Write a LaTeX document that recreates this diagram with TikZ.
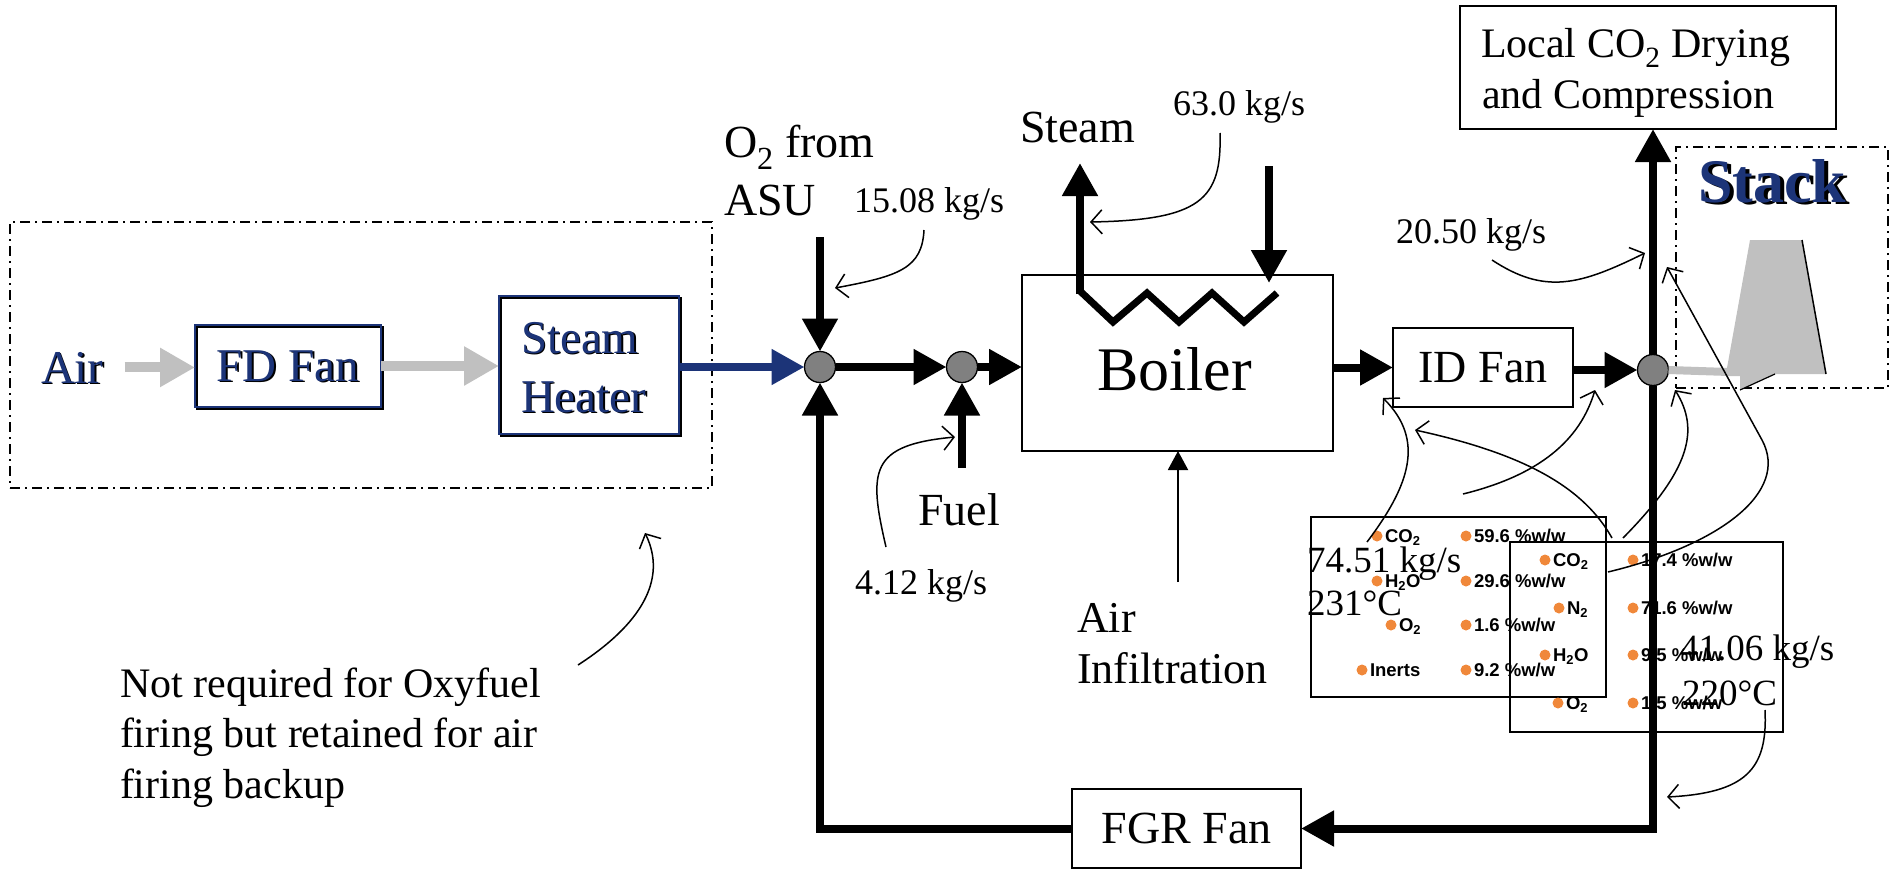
\documentclass[tikz,border=0pt]{standalone}
\usepackage{fontspec}
\setmainfont{Liberation Serif}
\newfontfamily\sansbf{Liberation Sans}
\usetikzlibrary{arrows.meta}
\definecolor{navy}{RGB}{28,52,120}
\definecolor{dotorange}{RGB}{240,136,58}
\definecolor{mixgray}{RGB}{128,128,128}
\definecolor{lgray}{RGB}{192,192,192}
\newcommand\fsz[2]{\fontsize{#1}{#2}\selectfont}
\newcommand\bul[4]{\fill[dotorange] (#2,#3) circle[radius=5.5pt];
  \node[anchor=base west, font=\sansbf\bfseries\fsz{18.5}{22}] (#1) at (#2+8,#3+6.5) {#4};}
\begin{document}
\begin{tikzpicture}[x=1pt,y=-1pt,
  every node/.style={inner sep=0pt, outer sep=0pt},
  box/.style={draw, line width=1.8pt},
  nbox/.style={draw=navy, line width=2.2pt},
  shbox/.style={draw=black, line width=2pt},
  ddbox/.style={draw, line width=1.6pt, dash pattern=on 10pt off 5pt on 2pt off 5pt},
  mixer/.style={circle, draw, fill=mixgray, minimum size=31pt, line width=1.3pt},
  fatarrow/.style={line width=8pt, line join=miter, -{Triangle[length=33pt,width=34pt]}},
  grayarrow/.style={lgray, line width=10pt, -{Triangle[length=35pt,width=37pt]}},
  leader/.style={line width=1.5pt, -{Straight Barb[length=11pt,width=24pt]}},
  lab/.style={anchor=base west},
  big/.style={font=\fsz{46}{52}},
  mid/.style={font=\fsz{36}{43}},
  bigv/.style={font=\fsz{37}{44}},
]
\useasboundingbox (0,0) rectangle (1891,871);

% dash-dot groups
\node[ddbox, minimum width=702pt, minimum height=266pt] (airgroup) at (361,355) {};
\node[ddbox, minimum width=212pt, minimum height=241pt] (stackgroup) at (1782,267.5) {};

% air side (blue, shadowed)
\node[lab, font=\fsz{47}{52}] (airsh) at (42.5,384.5) {Air};
\node[lab, font=\fsz{47}{52}, text=navy] (air) at (41,383) {Air};
\node[shbox, minimum width=186pt, minimum height=82pt] (fdsh) at (290,368) {};
\node[nbox, minimum width=186pt, minimum height=82pt] (fd) at (288,366) {};
\node[font=\fsz{47}{52}] (fdtsh) at (289.5,367.5) {FD Fan};
\node[font=\fsz{47}{52}, text=navy] (fdt) at (288,366) {FD Fan};
\node[shbox, minimum width=180pt, minimum height=138pt] (shsh) at (591,367) {};
\node[nbox, minimum width=180pt, minimum height=138pt] (sh) at (589,365) {};
\node[lab, font=\fsz{47}{52}] (sh1s) at (522.5,354.5) {Steam};
\node[lab, font=\fsz{47}{52}, text=navy] (sh1) at (521,353) {Steam};
\node[lab, font=\fsz{47}{52}] (sh2s) at (522.5,413.5) {Heater};
\node[lab, font=\fsz{47}{52}, text=navy] (sh2) at (521,412) {Heater};

\draw[grayarrow] ([xshift=21pt]air.east) -- (air.east -| fd.west);
\draw[grayarrow] (fd.east) -- (fd.east -| sh.west);

% mixers
\node[mixer] (m1) at (820,367) {};
\node[mixer] (m2) at (962,367) {};
\node[mixer] (m3) at (1653,370) {};

\draw[fatarrow, navy] (sh.east |- m1.west) -- (m1.west);

% main units
\node[box, minimum width=311pt, minimum height=176pt] (boiler) at (1177.5,363) {};
\node[lab, font=\fsz{62}{70}] (boilert) at (1097,390) {Boiler};
\node[box, minimum width=180pt, minimum height=79pt, font=\fsz{46}{52}] (idfan) at (1483,367.5) {ID Fan};
\node[box, minimum width=229pt, minimum height=79pt, font=\fsz{46}{52}] (fgr) at (1186.5,828.5) {FGR Fan};
\node[box, minimum width=376pt, minimum height=123pt] (co2) at (1648,67.5) {};
\node[lab, font=\fsz{42}{51}] (co2a) at (1481,57) {Local CO\textsubscript{2} Drying};
\node[lab, font=\fsz{42}{51}] (co2b) at (1482,108) {and Compression};

% composition boxes
\node[draw, line width=2pt, minimum width=295pt, minimum height=180pt] (b1) at (1458.5,607) {};
\node[draw, line width=2pt, minimum width=273pt, minimum height=190pt] (b2) at (1646.5,637) {};
\bul{b1a}{1377}{536}{CO\textsubscript{2}}
\bul{b1b}{1466}{536}{59.6 \%w/w}
\bul{b1c}{1377}{581}{H\textsubscript{2}O}
\bul{b1d}{1466}{581}{29.6 \%w/w}
\bul{b1e}{1391}{625}{O\textsubscript{2}}
\bul{b1f}{1466}{625}{1.6 \%w/w}
\bul{b1g}{1362}{670}{Inerts}
\bul{b1h}{1466}{670}{9.2 \%w/w}
\bul{b2a}{1545}{560}{CO\textsubscript{2}}
\bul{b2b}{1633}{560}{17.4 \%w/w}
\bul{b2c}{1559}{608}{N\textsubscript{2}}
\bul{b2d}{1633}{608}{71.6 \%w/w}
\bul{b2e}{1545}{655}{H\textsubscript{2}O}
\bul{b2f}{1633}{655}{9.5 \%w/w}
\bul{b2g}{1558}{703}{O\textsubscript{2}}
\bul{b2h}{1633}{703}{1.5 \%w/w}
\node[lab, bigv] (q7451) at (1307,572) {74.51 kg/s};
\node[lab, bigv] (t231) at (1307,615) {231°C};
\node[lab, bigv] (q4106) at (1680,660) {41.06 kg/s};
\node[lab, bigv] (t220) at (1682,705) {220°C};

% stack
\draw[lgray, line width=8pt] (m3.east) -- (1729,372);
\fill[lgray] (1750,240) -- (1802,240) -- (1826,374) -- (1775,374) -- (1740,390) -- (1740,376) -- (1727,376) -- (1727,368) -- cycle;
\draw[line width=1.5pt] (1802,240) -- (1826,374);
\draw[line width=1.2pt] (1740,390) -- (1775,374);
\node[lab, font=\fsz{62}{70}\bfseries] (stacksh) at (1702,204) {Stack};
\node[lab, font=\fsz{62}{70}\bfseries, text=navy] (stack) at (1698,202) {Stack};

% thick flow connectors
\coordinate (o2top) at (820,237);
\draw[fatarrow] (o2top) -- (m1.north);
\draw[fatarrow] (m1.east) -- (m2.west);
\draw[fatarrow] (m2.east) -- (m2.east -| boiler.west);
\coordinate (fuelbot) at (962,468);
\draw[fatarrow] (fuelbot) -- (m2.south);
\draw[fatarrow] (fgr.west) -- (fgr.west -| m1.south) -- (m1.south);
\draw[fatarrow] (boiler.east |- idfan.west) -- (idfan.west);
\draw[fatarrow] (idfan.east |- m3.west) -- (m3.west);
\draw[fatarrow] (m3.north) -- (m3.north |- co2.south);
\draw[fatarrow] (m3.south) -- (m3.south |- fgr.east) -- (fgr.east);

% steam coil
\coordinate (z0) at (1080,294);
\coordinate (steamtop) at (1080,163);
\draw[fatarrow] (z0) -- (steamtop);
\coordinate (sintop) at (1269,166);
\coordinate (sinbot) at (1269,283);
\draw[fatarrow] (sintop) -- (sinbot);
\draw[line width=7pt, line join=miter] (1080,291) -- (1113,322) -- (1147,293) -- (1179,322) -- (1212,293) -- (1244,322) -- (1277,293);

% air infiltration
\coordinate (infbot) at (1178,582);
\draw[line width=2pt, -{Triangle[length=19pt,width=20pt]}] (infbot) -- (infbot |- boiler.south);

% labels
\node[lab, big] (o2a) at (724,157) {O\textsubscript{2} from};
\node[lab, big] (o2b) at (724,215) {ASU};
\node[lab, mid] (q1508) at (854,212) {15.08 kg/s};
\node[lab, big] (steam) at (1020,142) {Steam};
\node[lab, mid] (q630) at (1173,115) {63.0 kg/s};
\node[lab, big] (fuel) at (918,525) {Fuel};
\node[lab, mid] (q412) at (855,594) {4.12 kg/s};
\node[lab, font=\fsz{44}{51}] (infa) at (1077,632) {Air};
\node[lab, font=\fsz{44}{51}] (infb) at (1077,683) {Infiltration};
\node[lab, mid] (q2050) at (1396,243) {20.50 kg/s};
\node[lab, font=\fsz{42}{50}] (n1) at (120,697) {Not required for Oxyfuel};
\node[lab, font=\fsz{42}{50}] (n2) at (120,747) {firing but retained for air};
\node[lab, font=\fsz{42}{50}] (n3) at (120,798) {firing backup};

% leaders
\coordinate (l1s) at (924,230);   \coordinate (l1e) at (835,288);
\coordinate (l2s) at (1220,133);  \coordinate (l2e) at (1090,222);
\coordinate (l3s) at (886,547);   \coordinate (l3e) at (955,437);
\coordinate (l4s) at (578,665);   \coordinate (l4e) at (645,533);
\coordinate (l5s) at (1492,260);  \coordinate (l5e) at (1645,253);
\coordinate (las) at (1367,542);  \coordinate (lae) at (1383,398);
\coordinate (lbs) at (1612,538);  \coordinate (lbe) at (1415,430);
\coordinate (lcs) at (1463,494);  \coordinate (lce) at (1595,390);
\coordinate (lds) at (1623,538);  \coordinate (lde) at (1675,390);
\coordinate (les) at (1608,572);  \coordinate (lem) at (1762,440); \coordinate (lee) at (1667,267);
\coordinate (lgs) at (1765,710);  \coordinate (lge) at (1667,797);
\draw[leader] (l1s) .. controls (922,268) and (900,276) .. (l1e);
\draw[leader] (l2s) .. controls (1222,200) and (1200,220) .. (l2e);
\draw[leader] (l3s) .. controls (868,470) and (870,445) .. (l3e);
\draw[leader] (l4s) .. controls (640,625) and (668,580) .. (l4e);
\draw[leader] (l5s) .. controls (1545,295) and (1580,285) .. (l5e);
\draw[leader] (las) .. controls (1410,485) and (1425,440) .. (lae);
\draw[leader] (lbs) .. controls (1585,490) and (1530,455) .. (lbe);
\draw[leader] (lcs) .. controls (1540,475) and (1580,440) .. (lce);
\draw[leader] (lds) .. controls (1690,470) and (1700,430) .. (lde);
\draw[leader] (les) .. controls (1720,545) and (1790,492) .. (lem) -- (lee);
\draw[leader] (lgs) .. controls (1768,770) and (1745,793) .. (lge);
\end{tikzpicture}
\end{document}
